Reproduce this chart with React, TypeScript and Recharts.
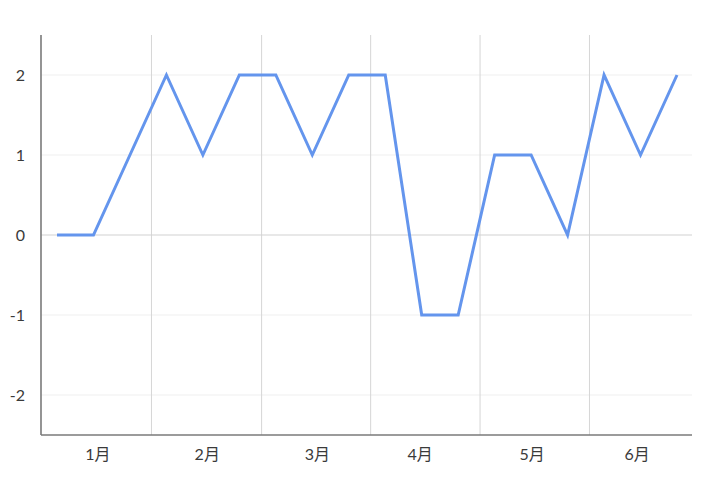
import { LineChart, Line, XAxis, YAxis, ReferenceLine } from 'recharts';

// one value per point, three points per month
const values = [0, 0, 1, 2, 1, 2, 2, 1, 2, 2, -1, -1, 1, 1, 0, 2, 1, 2];
const months = ['1月', '2月', '3月', '4月', '5月', '6月'];
// where the month labels sit, in point-index units
const monthTickPos = [1.12, 4.12, 7.14, 9.96, 13.03, 15.91];
// month boundary lines, in point-index units
const monthBounds = [2.59, 5.61, 8.6, 11.6, 14.6];
const yTicks = [-2, -1, 0, 1, 2];

const data = values.map((v, i) => ({ idx: i, value: v }));

const font = "Lato, 'Noto Sans CJK JP', sans-serif";

export default function App() {
  return (
    <div style={{ position: 'absolute', left: 0, top: 0, background: '#fff' }}>
      <LineChart
        width={720}
        height={489}
        data={data}
        margin={{ top: 35, right: 28, left: 0, bottom: 24 }}
      >
        {yTicks.filter((t) => t !== 0).map((t) => (
          <ReferenceLine key={'h' + t} y={t} stroke="#efefef" strokeWidth={1} />
        ))}
        {monthBounds.map((b, i) => (
          <ReferenceLine key={i} x={b} stroke="#d6d6d6" strokeWidth={1} />
        ))}
        <ReferenceLine y={0} stroke="#d2d2d2" strokeWidth={1.2} />
        <XAxis
          dataKey="idx"
          type="number"
          domain={[0, 17]}
          padding={{ left: 16, right: 15 }}
          ticks={monthTickPos}
          interval={0}
          tickFormatter={(_v: number, i: number) => months[i]}
          tickLine={false}
          axisLine={{ stroke: '#7a7a7a', strokeWidth: 1.6 }}
          tick={{ fill: '#3a3a3a', fontSize: 16, fontFamily: font }}
          tickMargin={8}
          height={30}
        />
        <YAxis
          type="number"
          domain={[-2.5, 2.5]}
          ticks={yTicks}
          interval={0}
          width={41}
          tickLine={false}
          axisLine={{ stroke: '#7a7a7a', strokeWidth: 1.6 }}
          tick={{ fill: '#3a3a3a', fontSize: 16, fontFamily: font }}
          tickMargin={10}
        />
        <Line
          type="linear"
          dataKey="value"
          stroke="#6495ed"
          strokeWidth={3}
          dot={false}
          activeDot={false}
          isAnimationActive={false}
        />
      </LineChart>
    </div>
  );
}
